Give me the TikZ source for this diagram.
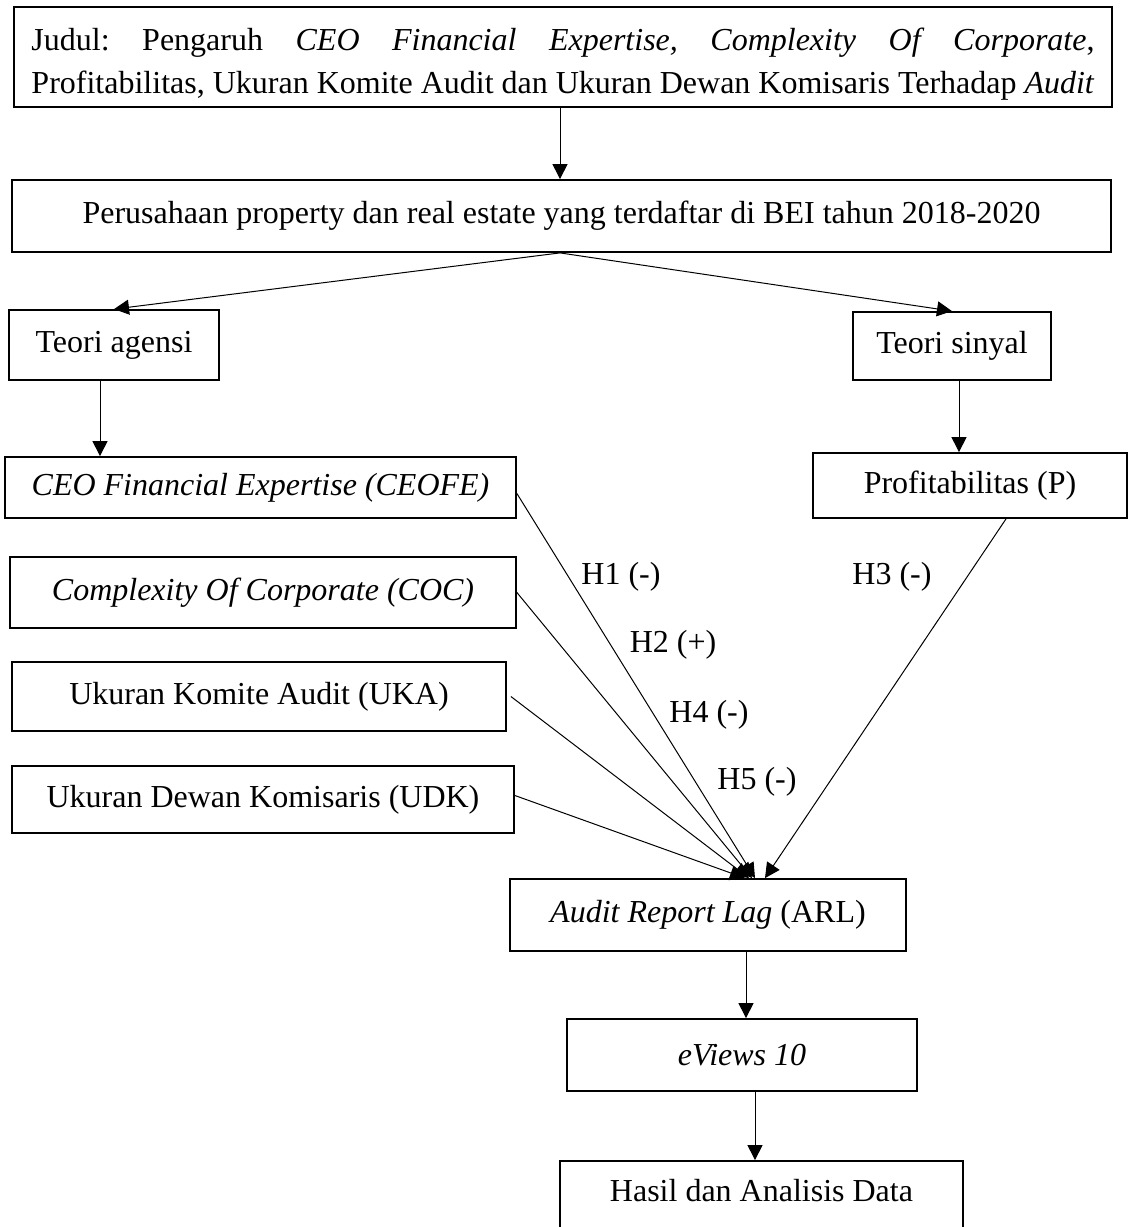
\documentclass[tikz,border=0pt]{standalone}
\usepackage{fontspec}
\setmainfont{Liberation Serif}
\usetikzlibrary{arrows.meta,calc}
\newlength{\ttlw}
\begin{document}
\settowidth{\ttlw}{\fontsize{32}{43}\selectfont\frenchspacing Profitabilitas, Ukuran Komite Audit dan Ukuran Dewan Komisaris Terhadap \textit{Audit}}%
\begin{tikzpicture}[x=1pt,y=-1pt,
  box/.style={draw, line width=1.8pt, inner sep=0pt, font=\fontsize{32}{43}\selectfont\frenchspacing, align=center},
  conn/.style={line width=1pt, -{Triangle[length=15pt,width=15pt]}},
  hlab/.style={font=\fontsize{32}{38}\selectfont, inner sep=0pt}]
\useasboundingbox (0,0) rectangle (1139,1227);
\clip (0,0) rectangle (1139,1227);
\fill[white] (0,0) rectangle (1139,1227);

% helper x positions
\coordinate (x560) at (560,0);
\coordinate (x100) at (100,0);
\coordinate (x959) at (959,0);
\coordinate (x1006) at (1006,0);
\coordinate (x745) at (745,0);
\coordinate (x749) at (749,0);
\coordinate (x752) at (752,0);
\coordinate (x755) at (755,0);
\coordinate (x765) at (765,0);
\coordinate (x746) at (746,0);

% boxes
\node[box, minimum width=1098pt, minimum height=100pt] (title) at (563,57)
  {\rule{0pt}{37pt}\makebox[\ttlw][s]{Judul: Pengaruh \textit{CEO Financial Expertise,} \textit{Complexity Of Corporate},}\\
   \makebox[\ttlw][s]{Profitabilitas, Ukuran Komite Audit dan Ukuran Dewan Komisaris Terhadap \textit{Audit}}};
\node[box, minimum width=1099pt, minimum height=72pt] (firm) at (561.5,216)
  {Perusahaan property dan real estate yang terdaftar di BEI tahun 2018-2020};
\node[box, minimum width=210pt, minimum height=70pt] (agensi) at (114,345) {Teori agensi};
\node[box, minimum width=198pt, minimum height=68pt] (sinyal) at (952,346) {Teori sinyal};
\node[box, minimum width=511pt, minimum height=61pt] (ceofe) at (260.5,487.5) {\textit{CEO Financial Expertise (CEOFE)}};
\node[box, minimum width=314pt, minimum height=65pt] (prof) at (970,485.5) {Profitabilitas (P)};
\node[box, minimum width=506pt, minimum height=71pt] (coc) at (263,592.5) {\textit{Complexity Of Corporate (COC)}};
\node[box, minimum width=494pt, minimum height=69pt] (uka) at (259,696.5) {Ukuran Komite Audit (UKA)};
\node[box, minimum width=502pt, minimum height=67pt] (udk) at (263,799.5) {Ukuran Dewan Komisaris (UDK)};
\node[box, minimum width=396pt, minimum height=72pt] (arl) at (708,915) {\textit{Audit Report Lag} (ARL)};
\node[box, minimum width=350pt, minimum height=72pt] (eviews) at (742,1055) {\textit{eViews 10}};
\node[box, minimum width=403pt, minimum height=80pt, text height=25pt, text depth=25pt] (hasil) at (761.5,1201) {Hasil dan Analisis Data};

% labels
\node[hlab] (h1) at (621,577) {H1 (-)};
\node[hlab] (h2) at (673,645) {H2 (+)};
\node[hlab] (h3) at (892,577) {H3 (-)};
\node[hlab] (h4) at (709,715) {H4 (-)};
\node[hlab] (h5) at (757,782) {H5 (-)};

% connectors
\draw[conn] (x560 |- title.south) -- (x560 |- firm.north);
\draw[conn] (x560 |- firm.south) -- (agensi.north);
\draw[conn] (x560 |- firm.south) -- (sinyal.north);
\draw[conn] (x100 |- agensi.south) -- (x100 |- ceofe.north);
\draw[conn] (x959 |- sinyal.south) -- (x959 |- prof.north);
\draw[conn] ($(ceofe.east)+(0,6)$) -- (x755 |- arl.north);
\draw[conn] (coc.east) -- (x752 |- arl.north);
\draw[conn] ($(uka.east)+(4,0)$) -- (x749 |- arl.north);
\draw[conn] ($(udk.east)+(0,-4)$) -- (x745 |- arl.north);
\draw[conn] (x1006 |- prof.south) -- (x765 |- arl.north);
\draw[conn] (x746 |- arl.south) -- (x746 |- eviews.north);
\draw[conn] (x755 |- eviews.south) -- (x755 |- hasil.north);
\end{tikzpicture}
\end{document}
